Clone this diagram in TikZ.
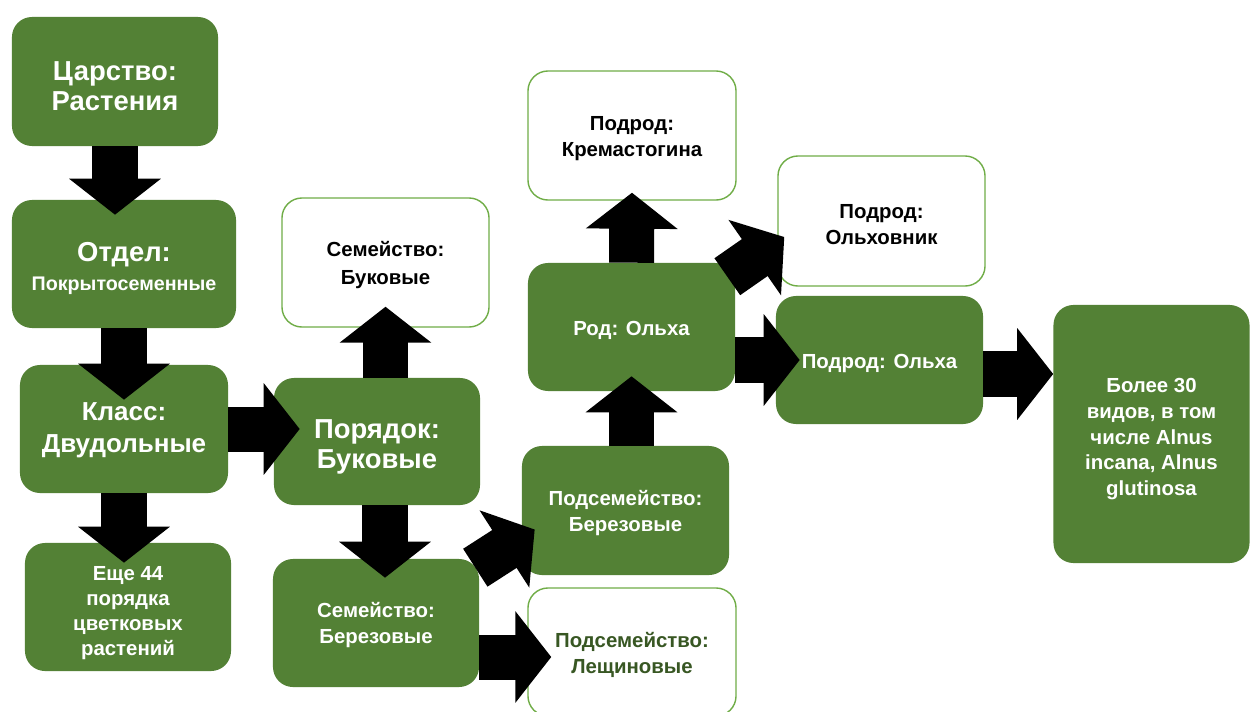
\documentclass[tikz,border=0pt]{standalone}
\usepackage{fontspec}
\setmainfont{Liberation Sans}
\usetikzlibrary{arrows.meta,calc}
\definecolor{gfill}{HTML}{538135}
\definecolor{gline}{HTML}{70AD47}
\definecolor{gtext}{HTML}{385723}
% centred lines of text, drawn lowered by #1 inside an unchanged box
\newcommand{\boxtxt}[2][2pt]{\raisebox{-#1}[\height][\depth]{\begin{tabular}{@{}c@{}}#2\end{tabular}}}
\tikzset{
  boxbase/.style={rounded corners=0.5cm, inner sep=0pt,
    minimum width=5.175cm, minimum height=3.2cm,
    font=\bfseries\fontsize{14.5}{18.5}\selectfont},
  gbox/.style={boxbase, fill=gfill, text=white},
  wbox/.style={boxbase, fill=white, draw=gline, line width=1pt, text=black},
  bigtxt/.style={font=\bfseries\fontsize{19.5}{21.5}\selectfont},
  blk/.style={line width=1.125cm, black, -{Triangle[length=0.9cm,width=2.25cm]}},
}
\begin{document}
\begin{tikzpicture}[x=0.025cm,y=-0.025cm]
\useasboundingbox[fill=white] (0,0) rectangle (1250,711);

% boxes
\node[gbox,bigtxt,minimum width=5.15cm,minimum height=3.225cm] (tsar) at (115,81.5) {\boxtxt[5.5pt]{Царство:\\Растения}};
\node[gbox,minimum width=5.6cm] (otdel) at (124,264) {\boxtxt[4.3pt]{{\fontsize{19.5}{21}\selectfont Отдел:}\\[2pt]{\fontsize{14}{18}\selectfont Покрытосеменные}}};
\node[gbox,minimum width=5.2cm,font=\bfseries\fontsize{18.5}{23}\selectfont] (klass) at (124,429) {\boxtxt[0.7pt]{Класс:\\Двудольные}};
\node[gbox,minimum width=5.15cm,font=\bfseries\fontsize{14.5}{17.8}\selectfont] (eshe) at (128,607) {\boxtxt[4pt]{Еще 44\\порядка\\цветковых\\растений}};
\node[gbox,bigtxt,minimum width=5.15cm,minimum height=3.175cm] (poryadok) at (377,441.5) {\boxtxt[4.3pt]{Порядок:\\Буковые}};
\node[wbox,minimum height=3.225cm,font=\bfseries\fontsize{14.5}{20}\selectfont] (semBuk) at (385.5,262.5) {\boxtxt[1.4pt]{Семейство:\\Буковые}};
\node[gbox,minimum width=5.15cm] (semBer) at (376,623) {\boxtxt[1.8pt]{Семейство:\\Березовые}};
\node[gbox,minimum height=3.225cm] (podBer) at (625.5,510.5) {\boxtxt[2.1pt]{Подсемейство:\\Березовые}};
\node[wbox,minimum width=5.2cm,text=gtext] (podLesh) at (632,652) {\boxtxt[2.5pt]{Подсемейство:\\Лещиновые}};
\node[gbox] (rod) at (631.5,327) {\boxtxt[2.1pt]{Род: Ольха}};
\node[wbox,minimum width=5.2cm,minimum height=3.225cm] (krem) at (632,135.5) {\boxtxt[2.1pt]{Подрод:\\Кремастогина}};
\node[wbox,minimum height=3.25cm] (olhov) at (881.5,221) {\boxtxt[3.9pt]{Подрод:\\Ольховник}};
\node[gbox] (podOlha) at (879.5,360) {\boxtxt[2.1pt]{Подрод: Ольха}};
\node[gbox,minimum width=4.9cm,minimum height=6.45cm,font=\bfseries\fontsize{14.5}{18.3}\selectfont] (bolee) at (1151.5,434) {\boxtxt[3.5pt]{Более 30\\видов, в том\\числе Alnus\\incana, Alnus\\glutinosa}};

% block arrows
\draw[blk] (tsar.south) -- ($(tsar.south |- otdel.north)+(0,15)$);
\draw[blk] (otdel.south) -- ($(otdel.south |- klass.north)+(0,35)$);
\draw[blk] (klass.south) -- ($(klass.south |- eshe.north)+(0,20)$);
\draw[blk] (klass.east) -- ($(klass.east -| poryadok.west)+(26,0)$);
\draw[blk] (semBuk.south |- poryadok.north) -- ($(semBuk.south)+(0,-21)$);
\draw[blk] ($(poryadok.south)+(8,0)$) -- ($(poryadok.south |- semBer.north)+(8,19)$);
\draw[blk] ($(semBer.north east)+(-4,9)$) -- ($(podBer.west)+(13,19)$);
\draw[blk] ($(semBer.east)+(0,34)$) -- ($(podLesh.west)+(24,5)$);
\draw[blk] (rod.south |- podBer.north) -- ($(rod.south)+(0,-15)$);
\draw[blk] (rod.north) -- ($(krem.south)+(0,-8)$);
\draw[blk] ($(rod.north east)+(-8,14)$) -- ($(olhov.west)+(7,16)$);
\draw[blk] (rod.east |- podOlha.west) -- ($(podOlha.west)+(24,0)$);
\draw[blk] ($(podOlha.east)+(0,14)$) -- ($(podOlha.east -| bolee.west)+(0,14)$);
\end{tikzpicture}
\end{document}
